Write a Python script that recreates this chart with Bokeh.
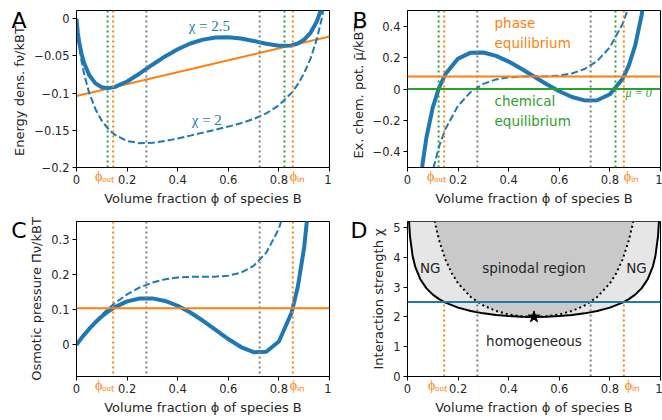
from bokeh.plotting import figure
from bokeh.models import Span, Label, FixedTicker, GridBox, LinearAxis
from bokeh.embed import file_html
from bokeh.resources import INLINE

BLUE = "#1f77b4"
ORANGE = "#ff7f0e"
GREEN = "#2ca02c"
GREY = "#7f7f7f"
FONT = "DejaVu Sans"
SERIF = "Liberation Serif"
TXT = "#262626"

# ---------------- data ----------------
chi_low = 2.0
chi_high = 2.5

# Panel A: free energy density f*nu/kBT
phi_f = [0, 0.005, 0.01, 0.02, 0.03, 0.05, 0.075, 0.1, 0.125, 0.15, 0.2, 0.25, 0.3, 0.35,
         0.4, 0.45, 0.5, 0.55, 0.6, 0.65, 0.7, 0.75, 0.8, 0.85, 0.875, 0.9, 0.925, 0.95, 0.97, 0.98]
f_chi25 = [0, -0.01864, -0.03045, -0.04744, -0.05959, -0.07576, -0.08695, -0.09209, -0.09333,
           -0.09196, -0.08440, -0.07359, -0.06187, -0.05069, -0.04102, -0.03339, -0.02815,
           -0.02539, -0.02502, -0.02669, -0.02987, -0.03359, -0.03640, -0.03596, -0.03333,
           -0.02809, -0.01895, -0.00376, 0.01561, 0.02936]
f_chi2 = [0, -0.02113, -0.03540, -0.05724, -0.07414, -0.09951, -0.12164, -0.13709, -0.14802,
          -0.15571, -0.16440, -0.16734, -0.16687, -0.16444, -0.16102, -0.15714, -0.15315,
          -0.14914, -0.14502, -0.14044, -0.13487, -0.12734, -0.11640, -0.09971, -0.08802,
          -0.07309, -0.05364, -0.02751, 0.00106, 0.01956]
tangent_phi = [0, 1]
tangent_f = [-0.104, -0.024]

# Panel B: exchange chemical potential
phi_mu = [0.005, 0.01, 0.02, 0.03, 0.05, 0.06, 0.075, 0.1, 0.125, 0.15, 0.2, 0.25, 0.3, 0.35,
          0.4, 0.45, 0.5, 0.55, 0.6, 0.65, 0.7, 0.75, 0.8, 0.85, 0.875, 0.9, 0.925, 0.94, 0.95]
mu_chi25 = [-2.7383, -2.0651, -1.4118, -1.0461, -0.6144, -0.4715, -0.3073, -0.1172, 0.0091,
            0.0954, 0.1937, 0.2314, 0.2327, 0.2110, 0.1745, 0.1293, 0.08, 0.0307, -0.0145,
            -0.0510, -0.0727, -0.0714, -0.0337, 0.0646, 0.1509, 0.2772, 0.4673, 0.6315, 0.7744]
mu_chi2 = [-3.2333, -2.5551, -1.8918, -1.5161, -1.0644, -0.9115, -0.7323, -0.5172, -0.3659,
           -0.2546, -0.1063, -0.0186, 0.0327, 0.0610, 0.0745, 0.0793, 0.08, 0.0807, 0.0855,
           0.0990, 0.1273, 0.1786, 0.2663, 0.4146, 0.5259, 0.6772, 0.8923, 1.0715, 1.2244]
mu_phase_eq = 0.08
mu_chem_eq = 0.0

# Panel C: osmotic pressure
phi_pi = [0, 0.005, 0.01, 0.02, 0.03, 0.05, 0.075, 0.1, 0.125, 0.15, 0.2, 0.25, 0.3, 0.35,
          0.4, 0.45, 0.5, 0.55, 0.6, 0.65, 0.7, 0.75, 0.8, 0.85, 0.875, 0.9, 0.925]
pi_chi25 = [0, 0.00495, 0.00980, 0.01920, 0.02821, 0.04504, 0.06390, 0.08036, 0.09447, 0.10627,
            0.12314, 0.13143, 0.13168, 0.12453, 0.11083, 0.09159, 0.06815, 0.04226, 0.01629,
            -0.00643, -0.02103, -0.01996, 0.00944, 0.09087, 0.16538, 0.27759, 0.45120]
pi_chi2 = [0, 0.00496, 0.00985, 0.01940, 0.02866, 0.04629, 0.06671, 0.08536, 0.10228, 0.11752,
           0.14314, 0.16268, 0.17668, 0.18578, 0.19083, 0.19284, 0.19315, 0.19351, 0.19629,
           0.20482, 0.22397, 0.26129, 0.32944, 0.45212, 0.54819, 0.68259, 0.87902]
pi_eq = 0.104

# Panel D: phase diagram
phi_bin = [0.005, 0.01, 0.02, 0.03, 0.05, 0.075, 0.1, 0.125, 0.15, 0.2, 0.25, 0.3, 0.35, 0.4,
           0.45, 0.5, 0.55, 0.6, 0.65, 0.7, 0.75, 0.8, 0.85, 0.875, 0.9, 0.925, 0.95, 0.97,
           0.98, 0.99, 0.995]
chi_bin = [5.3468, 4.6889, 4.0540, 3.6980, 3.2716, 2.9556, 2.7465, 2.5945, 2.4780, 2.3105,
           2.1972, 2.1183, 2.0633, 2.0275, 2.0070, 2.0, 2.0070, 2.0275, 2.0633, 2.1183, 2.1972,
           2.3105, 2.4780, 2.5945, 2.7465, 2.9556, 3.2716, 3.6980, 4.0540, 4.6889, 5.3468]
phi_sp = [0.1, 0.11, 0.125, 0.15, 0.175, 0.2, 0.25, 0.3, 0.35, 0.4, 0.45, 0.5, 0.55, 0.6, 0.65,
          0.7, 0.75, 0.8, 0.825, 0.85, 0.875, 0.89, 0.9]
chi_sp = [5.5556, 5.1073, 4.5714, 3.9216, 3.4632, 3.1250, 2.6667, 2.3810, 2.1978, 2.0833,
          2.0202, 2.0, 2.0202, 2.0833, 2.1978, 2.3810, 2.6667, 3.1250, 3.4632, 3.9216, 4.5714,
          5.1073, 5.5556]
crit_phi = [0.5]
crit_chi = [2.0]

# special volume fractions at chi = 2.5
phi_out = 0.145
phi_in = 0.855
phi_spinodal = [0.276, 0.724]
phi_mu_zero = [0.123, 0.822]

x_ticks = [0, 0.2, 0.4, 0.6, 0.8, 1]
x_tick_labels = ["0", "0.2", "0.4", "0.6", "0.8", "1"]
yA_ticks = [-0.2, -0.15, -0.1, -0.05, 0]
yA_labels = ["\u22120.2", "\u22120.15", "\u22120.1", "\u22120.05", "0"]
yB_ticks = [-0.4, -0.2, 0, 0.2, 0.4]
yB_labels = ["\u22120.4", "\u22120.2", "0", "0.2", "0.4"]
yC_ticks = [0, 0.1, 0.2, 0.3]
yC_labels = ["0", "0.1", "0.2", "0.3"]
yD_ticks = [0, 1, 2, 3, 4, 5]
yD_labels = ["0", "1", "2", "3", "4", "5"]
phi_out_text = "\u03d5\u2092\u1d64\u209c"
phi_in_text = "\u03d5\u1d62\u2099"

XLABEL = "Volume fraction \u03d5 of species B"
FW = 253
# layout: (frame height, border top, border bottom)
TOP_ROW = (157, 10, 43)
BOT_ROW = (155, 10, 44)
PAGE_W, PAGE_H = 662, 420
# the overlay's frame is aligned by the grid to the panels' outer frame edges
OV_X = (76, 660)
OV_Y = (376, 10)


def make_fig(ylabel, yr, yt, yl, bl, br, rowspec):
    fh, bt, bb = rowspec
    p = figure(frame_width=FW, frame_height=fh, x_range=(0, 1), y_range=yr,
               output_backend="svg", toolbar_location=None,
               min_border_left=bl, min_border_right=br, min_border_top=bt, min_border_bottom=bb)
    p.grid.visible = False
    p.outline_line_color = "black"
    p.outline_line_width = 1
    p.outline_line_alpha = 1
    for ax in (p.xaxis[0], p.yaxis[0]):
        ax.major_tick_in = 0
        ax.major_tick_out = 4
        ax.minor_tick_line_color = None
        ax.axis_line_color = "black"
        ax.major_tick_line_color = "black"
        ax.major_label_text_font = FONT
        ax.major_label_text_font_size = "11.5px"
        ax.major_label_text_color = TXT
        ax.major_label_standoff = 3
        ax.axis_label_text_font = FONT
        ax.axis_label_text_font_size = "13px"
        ax.axis_label_text_font_style = "normal"
        ax.axis_label_text_color = TXT
        ax.axis_label_standoff = 4
    p.xaxis.ticker = FixedTicker(ticks=x_ticks)
    p.xaxis.major_label_overrides = dict(zip(x_ticks, x_tick_labels))
    p.yaxis.ticker = FixedTicker(ticks=yt)
    p.yaxis.major_label_overrides = dict(zip(yt, yl))
    p.xaxis.axis_label = XLABEL
    p.yaxis.axis_label = ylabel
    return p


def vline(p, x, color):
    p.add_layout(Span(location=x, dimension="height", line_color=color, line_width=2,
                      line_dash="2 3"))


def bare_axis(ax):
    ax.axis_line_color = None
    ax.major_tick_line_color = None
    ax.minor_tick_line_color = None
    ax.major_tick_in = 0
    ax.major_tick_out = 0
    return ax


# ---------------- Panel A ----------------
pA = make_fig("Energy dens.  f\u03bd/kBT", (-0.2, 0.011), yA_ticks, yA_labels, 76, 2, TOP_ROW)
for x in phi_mu_zero:
    vline(pA, x, GREEN)
vline(pA, phi_out, ORANGE)
vline(pA, phi_in, ORANGE)
for x in phi_spinodal:
    vline(pA, x, GREY)
pA.line(tangent_phi, tangent_f, line_color=ORANGE, line_width=2)
pA.line(phi_f, f_chi2, line_color=BLUE, line_width=2, line_dash="7 3")
pA.line(phi_f, f_chi25, line_color=BLUE, line_width=4)
pA.add_layout(Label(x=0.525, y=-0.0105, text="\u03c7 = 2.5", text_font=SERIF,
                    text_font_size="15px", text_align="center", text_baseline="middle",
                    text_color=BLUE))
pA.add_layout(Label(x=0.515, y=-0.136, text="\u03c7 = 2", text_font=SERIF,
                    text_font_size="15px", text_align="center", text_baseline="middle",
                    text_color=BLUE))

# ---------------- Panel B ----------------
pB = make_fig("Ex. chem. pot.  \u03bc\u0304/kBT", (-0.5, 0.5), yB_ticks, yB_labels, 76, 2, TOP_ROW)
for x in phi_mu_zero:
    vline(pB, x, GREEN)
vline(pB, phi_out, ORANGE)
vline(pB, phi_in, ORANGE)
for x in phi_spinodal:
    vline(pB, x, GREY)
pB.add_layout(Span(location=mu_phase_eq, dimension="width", line_color=ORANGE, line_width=2))
pB.add_layout(Span(location=mu_chem_eq, dimension="width", line_color=GREEN, line_width=2))
pB.line(phi_mu, mu_chi2, line_color=BLUE, line_width=2, line_dash="7 3")
pB.line(phi_mu, mu_chi25, line_color=BLUE, line_width=4)
for txt, yy, col in [("phase", 0.42, ORANGE), ("equilibrium", 0.296, ORANGE),
                     ("chemical", -0.078, GREEN), ("equilibrium", -0.204, GREEN)]:
    pB.add_layout(Label(x=0.344, y=yy, text=txt, text_font=FONT, text_font_size="13.5px",
                        text_baseline="middle", text_color=col))
pB.add_layout(Label(x=0.862, y=-0.025, text="\u03bc\u0304 = 0", text_font=SERIF,
                    text_font_size="12px", text_baseline="middle", text_color=GREEN,
                    text_font_style="italic"))

# ---------------- Panel C ----------------
pC = make_fig("Osmotic pressure \u03a0\u0304\u03bd/kBT", (-0.09, 0.35), yC_ticks, yC_labels, 76, 2, BOT_ROW)
vline(pC, phi_out, ORANGE)
vline(pC, phi_in, ORANGE)
for x in phi_spinodal:
    vline(pC, x, GREY)
pC.add_layout(Span(location=pi_eq, dimension="width", line_color=ORANGE, line_width=2))
pC.line(phi_pi, pi_chi2, line_color=BLUE, line_width=2, line_dash="7 3")
pC.line(phi_pi, pi_chi25, line_color=BLUE, line_width=4)

# ---------------- Panel D ----------------
pD = make_fig("Interaction strength \u03c7", (0, 5.2), yD_ticks, yD_labels, 76, 2, BOT_ROW)
pD.varea(x=phi_bin, y1=chi_bin, y2=5.2, fill_color="#e6e6e6")
pD.varea(x=phi_sp, y1=chi_sp, y2=5.2, fill_color="#c9c9c9")
pD.line(phi_bin, chi_bin, line_color="black", line_width=2)
pD.line(phi_sp, chi_sp, line_color="black", line_width=2, line_dash="2 3")
pD.segment(x0=[phi_out, phi_in], y0=[0, 0], x1=[phi_out, phi_in], y1=[chi_high, chi_high],
           line_color=ORANGE, line_width=2, line_dash="2 3")
pD.segment(x0=phi_spinodal, y0=[0, 0], x1=phi_spinodal, y1=[chi_high, chi_high],
           line_color=GREY, line_width=2, line_dash="2 3")
pD.add_layout(Span(location=chi_high, dimension="width", line_color=BLUE, line_width=2))
pD.scatter(crit_phi, crit_chi, marker="star", size=12, color="black")
for txt, xx, yy in [("NG", 0.09, 3.63), ("spinodal region", 0.5, 3.63), ("NG", 0.905, 3.63),
                    ("homogeneous", 0.5, 1.19)]:
    pD.add_layout(Label(x=xx, y=yy, text=txt, text_font=FONT, text_font_size="13.5px",
                        text_align="center", text_baseline="middle", text_color=TXT))

# ---------------- transparent overlay for texts outside the plot frames ----------------
# its data coordinates equal page pixels (x from the left, y from the top)
ov = figure(width=PAGE_W, height=PAGE_H, x_range=OV_X, y_range=OV_Y,
            output_backend="svg", toolbar_location=None, x_axis_type=None, y_axis_type=None,
            min_border=0, background_fill_color=None, border_fill_color=None,
            outline_line_color=None)
ov.title.visible = False
ov.grid.visible = False

# letters A and C: tick labels of a bare left axis (left of the overlay frame)
letter_ax = bare_axis(LinearAxis())
letter_ax.ticker = FixedTicker(ticks=[20, 230])
letter_ax.major_label_overrides = {20: "A", 230: "C"}
letter_ax.major_label_text_font = FONT
letter_ax.major_label_text_font_size = "22px"
letter_ax.major_label_text_color = "black"
letter_ax.major_label_standoff = 50
ov.add_layout(letter_ax, "left")

# letters B and D: inside the overlay frame
for letter, lx, ly in [("B", 352, 20), ("D", 350, 230)]:
    ov.add_layout(Label(x=lx, y=ly, text=letter, text_font=FONT, text_font_size="22px",
                        text_baseline="middle", text_align="left", text_color="black"))

# phi_out / phi_in markers of the top row: inside the overlay frame
for cx, t in [(104, phi_out_text), (297, phi_in_text), (436, phi_out_text), (631, phi_in_text)]:
    ov.add_layout(Label(x=cx, y=176, text=t, text_font=SERIF, text_font_size="14px",
                        text_baseline="middle", text_align="center", text_color=ORANGE))

# phi_out / phi_in markers of the bottom row: tick labels of a bare bottom axis
phi_ax = bare_axis(LinearAxis())
phi_ax.ticker = FixedTicker(ticks=[104, 297, 437, 632])
phi_ax.major_label_overrides = {104: phi_out_text, 297: phi_in_text,
                                437: phi_out_text, 632: phi_in_text}
phi_ax.major_label_text_font = SERIF
phi_ax.major_label_text_font_size = "14px"
phi_ax.major_label_text_color = ORANGE
phi_ax.major_label_standoff = 1
ov.add_layout(phi_ax, "below")

grid = GridBox(children=[(pA, 0, 0), (pB, 0, 1), (pC, 1, 0), (pD, 1, 1), (ov, 0, 0, 2, 2)])
open("out.html", "w").write(file_html(grid, INLINE))
